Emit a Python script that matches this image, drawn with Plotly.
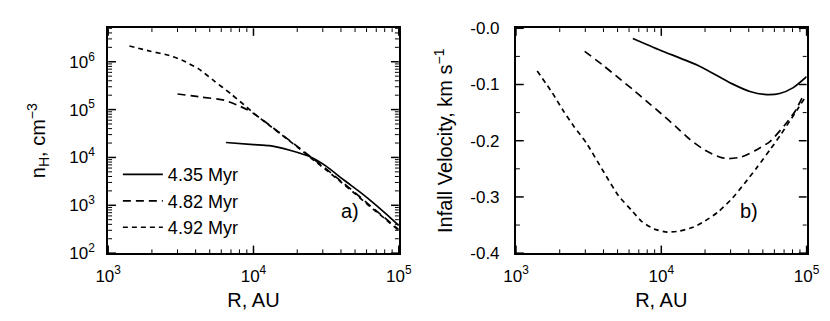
import math
import plotly.graph_objects as go

# ---------------- data ----------------
labels = ["4.35 Myr", "4.82 Myr", "4.92 Myr"]

# panel a) density n_H (cm^-3) vs R (AU)
r_a_435 = [6470, 10000, 12900, 17800, 25100, 31600, 41900, 55000, 70000, 83200, 100000]
n_a_435 = [2.05e4, 1.86e4, 1.76e4, 1.41e4, 1.0e4, 6.6e3, 3.37e3, 1.82e3, 1.0e3, 6.3e2, 3.77e2]

r_a_482 = [3000, 4400, 6300, 8150, 9000, 10000, 12600, 15800, 20000, 25100, 31600,
           39800, 50100, 63100, 79400, 100000]
n_a_482 = [2.12e5, 1.82e5, 1.57e5, 1.16e5, 1.0e5, 8.3e4, 5.0e4, 2.95e4, 1.7e4, 1.0e4,
           5.75e3, 3.24e3, 1.82e3, 1.0e3, 5.6e2, 3.1e2]

r_a_492 = [1400, 1950, 2640, 3240, 4190, 5400, 6980, 9000, 10000, 12600, 15800, 20000,
           25100, 31600, 39800, 50100, 63100, 79400, 100000]
n_a_492 = [2.13e6, 1.66e6, 1.35e6, 1.07e6, 7.1e5, 3.9e5, 2.14e5, 1.12e5, 8.5e4, 4.9e4,
           2.9e4, 1.66e4, 9.5e3, 5.5e3, 3.1e3, 1.74e3, 9.5e2, 5.4e2, 2.95e2]

# panel b) infall velocity (km/s) vs R (AU)
r_b_435 = [6370, 9840, 18200, 30300, 41300, 53300, 65300, 80400, 100000]
v_b_435 = [-0.018, -0.039, -0.067, -0.098, -0.113, -0.118, -0.116, -0.106, -0.086]

r_b_482 = [2970, 3980, 5010, 6310, 7940, 10000, 12600, 15800, 20000, 25100, 28800,
           35500, 44700, 56200, 70800, 83200, 93300]
v_b_482 = [-0.041, -0.066, -0.087, -0.108, -0.130, -0.152, -0.175, -0.198, -0.217,
           -0.229, -0.232, -0.229, -0.217, -0.201, -0.172, -0.148, -0.123]

r_b_492 = [1400, 1780, 2130, 2510, 3050, 3940, 5080, 6310, 7280, 8910, 10960, 13200,
           16500, 19950, 24800, 30900, 37400, 45700, 56400, 66100, 76600, 87100, 96600]
v_b_492 = [-0.076, -0.115, -0.148, -0.175, -0.204, -0.252, -0.298, -0.325, -0.343,
           -0.357, -0.3625, -0.361, -0.354, -0.343, -0.326, -0.302, -0.276, -0.247,
           -0.215, -0.19, -0.165, -0.143, -0.125]

# tick labels
x_tickvals = [1e3, 1e4, 1e5]
x_ticktext = ["10<sup>3</sup>", "10<sup>4</sup>", "10<sup>5</sup>"]
ya_tickvals = [1e2, 1e3, 1e4, 1e5, 1e6]
ya_ticktext = ["10<sup>2</sup>", "10<sup>3</sup>", "10<sup>4</sup>", "10<sup>5</sup>", "10<sup>6</sup>"]
yb_tickvals = [0.0, -0.1, -0.2, -0.3, -0.4]
yb_ticktext = ["-0.0", "-0.1", "-0.2", "-0.3", "-0.4"]
yb_minorvals = [-0.05, -0.15, -0.25, -0.35]

# ---------------- figure ----------------
W, H = 830, 321
FONT = "Liberation Sans, Arial, sans-serif"
dashes = ["solid", "8px,5px", "5px,4px"]

X_RANGE = [3, 5]          # log10 range of R
YA_RANGE = [2, 6.699]     # log10 range of n_H
YB_RANGE = [-0.4, 0.0]

fig = go.Figure()
series_a = [(r_a_435, n_a_435), (r_a_482, n_a_482), (r_a_492, n_a_492)]
series_b = [(r_b_435, v_b_435), (r_b_482, v_b_482), (r_b_492, v_b_492)]
for i, (x, y) in enumerate(series_a):
    fig.add_trace(go.Scatter(x=x, y=y, mode="lines", name=labels[i],
                             line=dict(color="black", width=1.7, dash=dashes[i], shape="spline", smoothing=0.6),
                             xaxis="x", yaxis="y", showlegend=True))
for i, (x, y) in enumerate(series_b):
    fig.add_trace(go.Scatter(x=x, y=y, mode="lines", name=labels[i],
                             line=dict(color="black", width=1.7, dash=dashes[i], shape="spline", smoothing=0.6),
                             xaxis="x2", yaxis="y2", showlegend=False))

def px_x(p):
    return p / W

def px_y(p):
    return 1 - p / H

def log_minor(e0, e1):
    return [m * 10 ** e for e in range(e0, e1) for m in range(2, 10)]

PLOT_W, PLOT_H = 300.0, 239.0
MAJ_LEN, MIN_LEN = 8.0, 4.0

# inside tick marks drawn on all four sides of each frame (axis-domain coordinates)
shapes = []

def frac_log(v, rng):
    return (math.log10(v) - rng[0]) / (rng[1] - rng[0])

def frac_lin(v, rng):
    return (v - rng[0]) / (rng[1] - rng[0])

def x_ticks(xref, yref, fracs, length, width):
    f = length / PLOT_H
    for p in fracs:
        if -1e-9 <= p <= 1 + 1e-9:
            shapes.append(dict(type="line", xref=xref, yref=yref, x0=p, x1=p, y0=0, y1=f,
                               line=dict(color="black", width=width), layer="above"))
            shapes.append(dict(type="line", xref=xref, yref=yref, x0=p, x1=p, y0=1, y1=1 - f,
                               line=dict(color="black", width=width), layer="above"))

def y_ticks(xref, yref, fracs, length, width):
    f = length / PLOT_W
    for p in fracs:
        if -1e-9 <= p <= 1 + 1e-9:
            shapes.append(dict(type="line", xref=xref, yref=yref, y0=p, y1=p, x0=0, x1=f,
                               line=dict(color="black", width=width), layer="above"))
            shapes.append(dict(type="line", xref=xref, yref=yref, y0=p, y1=p, x0=1, x1=1 - f,
                               line=dict(color="black", width=width), layer="above"))

for xr, yr in (("x domain", "y domain"), ("x2 domain", "y2 domain")):
    x_ticks(xr, yr, [frac_log(v, X_RANGE) for v in x_tickvals], MAJ_LEN, 1.5)
    x_ticks(xr, yr, [frac_log(v, X_RANGE) for v in log_minor(3, 5)], MIN_LEN, 1)
y_ticks("x domain", "y domain", [frac_log(v, YA_RANGE) for v in ya_tickvals], MAJ_LEN, 1.5)
y_ticks("x domain", "y domain", [frac_log(v, YA_RANGE) for v in log_minor(2, 7)], MIN_LEN, 1)
y_ticks("x2 domain", "y2 domain", [frac_lin(v, YB_RANGE) for v in yb_tickvals], MAJ_LEN, 1.5)
y_ticks("x2 domain", "y2 domain", [frac_lin(v, YB_RANGE) for v in yb_minorvals], MIN_LEN, 1)

common = dict(showline=True, linecolor="black", linewidth=2, mirror=True,
              ticks="", gridcolor="white", zerolinecolor="white",
              tickfont=dict(family=FONT, size=17, color="black"),
              title_font=dict(family=FONT, size=20, color="black"))

xdom1 = [px_x(90), px_x(390)]
xdom2 = [px_x(511), px_x(811)]
ydom = [px_y(251), px_y(12)]

fig.update_layout(
    width=W, height=H,
    margin=dict(l=0, r=0, t=0, b=0),
    paper_bgcolor="white", plot_bgcolor="white",
    font=dict(family=FONT, color="black"),
    xaxis=dict(domain=xdom1, anchor="y", type="log", range=X_RANGE,
               tickvals=x_tickvals, ticktext=x_ticktext, ticklabelstandoff=6,
               title=dict(text="R, AU", standoff=8), **common),
    yaxis=dict(domain=ydom, anchor="x", type="log", range=YA_RANGE,
               tickvals=ya_tickvals, ticktext=ya_ticktext, ticklabelstandoff=8,
               title=dict(text="n<sub>H</sub>, cm<sup>\u22123</sup>", standoff=18), **common),
    xaxis2=dict(domain=xdom2, anchor="y2", type="log", range=X_RANGE,
                tickvals=x_tickvals, ticktext=x_ticktext, ticklabelstandoff=6,
                title=dict(text="R, AU", standoff=8), **common),
    yaxis2=dict(domain=ydom, anchor="x2", range=YB_RANGE,
                tickvals=yb_tickvals, ticktext=yb_ticktext, ticklabelstandoff=11,
                title=dict(text="Infall Velocity, km s<sup>\u22121</sup>", standoff=12), **common),
    legend=dict(x=px_x(100), y=px_y(148), xanchor="left", yanchor="top",
                bgcolor="rgba(0,0,0,0)", borderwidth=0,
                font=dict(family=FONT, size=18, color="black"),
                itemwidth=40, tracegroupgap=0),
    shapes=shapes,
    annotations=[
        dict(text="a)", x=px_x(340), y=px_y(220), xref="paper", yref="paper",
             showarrow=False, font=dict(family=FONT, size=20, color="black")),
        dict(text="b)", x=px_x(763), y=px_y(220), xref="paper", yref="paper",
             showarrow=False, font=dict(family=FONT, size=20, color="black")),
    ],
)

fig.write_html("out.html")
